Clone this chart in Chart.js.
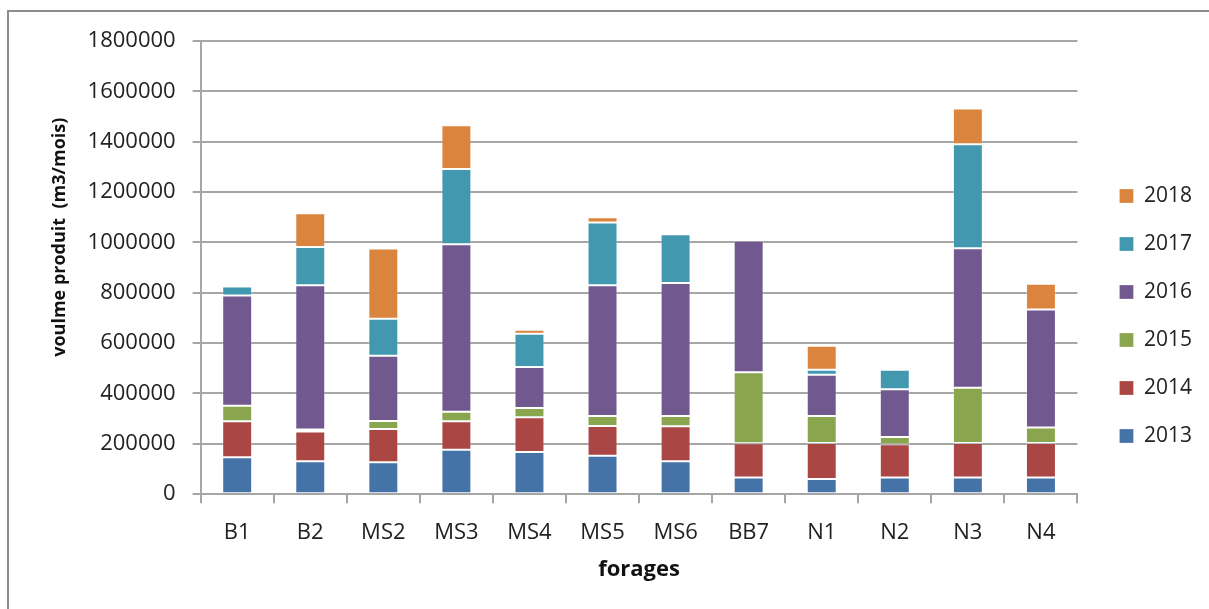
<!DOCTYPE html>
<html>
<head>
<meta charset="utf-8">
<script src="https://cdn.jsdelivr.net/npm/chart.js@4"></script>
<style>
    html, body { margin: 0; padding: 0; background: #fff; }
    #wrap { position: relative; width: 1209px; height: 609px; overflow: hidden; }
    #frame {
        position: absolute; left: 7px; top: 10px; width: 1300px; height: 700px;
        border-left: 2px solid #8c8c8c; border-top: 2px solid #8c8c8c;
    }
    canvas { position: absolute; left: 0; top: 0; }
</style>
</head>
<body>
<div id="wrap">
    <div id="frame"></div>
    <canvas id="volumeChart" width="1209" height="609"></canvas>
</div>
<script>
// ========================================
// Volume produit par forage (m3/mois)
// ========================================

const forages = ['B1', 'B2', 'MS2', 'MS3', 'MS4', 'MS5', 'MS6', 'BB7', 'N1', 'N2', 'N3', 'N4'];

const vol2013 = [147000, 131000, 127000, 177000, 168000, 153000, 131000, 66000, 60000, 66000, 66000, 66000];
const vol2014 = [143000, 118000, 132000, 113000, 138000, 118000, 139000, 136000, 143000, 132000, 137000, 137000];
const vol2015 = [61000, 8000, 32000, 37000, 36000, 40000, 41000, 282000, 108000, 29000, 220000, 62000];
const vol2016 = [438000, 573000, 259000, 666000, 163000, 519000, 528000, 523000, 163000, 190000, 554000, 469000];
const vol2017 = [36000, 152000, 147000, 299000, 132000, 249000, 193000, 0, 20000, 77000, 413000, 0];
const vol2018 = [0, 134000, 279000, 173000, 16000, 21000, 0, 0, 96000, 0, 142000, 102000];

const yTicks = [0, 200000, 400000, 600000, 800000, 1000000, 1200000, 1400000, 1600000, 1800000];

const FONT = "'Open Sans', 'DejaVu Sans', sans-serif";
const GRID = '#a6a6a6';

const series = [
    { label: '2013', data: vol2013, color: '#4572a7' },
    { label: '2014', data: vol2014, color: '#aa4643' },
    { label: '2015', data: vol2015, color: '#89a54e' },
    { label: '2016', data: vol2016, color: '#71588f' },
    { label: '2017', data: vol2017, color: '#4198af' },
    { label: '2018', data: vol2018, color: '#db843d' }
];

// leave some air between the plot and the legend
const legendGap = {
    id: 'legendGap',
    afterLayout(chart) {
        const legend = chart.legend;
        if (!legend) return;
        legend.left = chart.chartArea.right + 15;
        legend.right = legend.left + legend.width;
        legend.top += 4;
        legend.bottom += 4;
    }
};

// y title sits a bit above the middle of the axis
const yTitle = 'voulme produit  (m3/mois)'.padStart(38, ' ');

const ctx = document.getElementById('volumeChart');

try {
    new Chart(ctx.getContext('2d'), {
        type: 'bar',
        data: {
            labels: forages,
            datasets: series.map(s => ({
                label: s.label,
                data: s.data,
                backgroundColor: s.color,
                borderColor: 'rgba(255,255,255,0.25)',
                borderWidth: 1,
                borderSkipped: false,
                categoryPercentage: 1,
                barPercentage: 0.41
            }))
        },
        plugins: [legendGap],
        options: {
            responsive: false,
            animation: false,
            layout: { padding: { left: 49, top: 41, right: 22, bottom: 26 } },
            plugins: {
                tooltip: { enabled: false },
                legend: {
                    position: 'right',
                    reverse: true,
                    labels: {
                        boxWidth: 14,
                        boxHeight: 14,
                        padding: 27,
                        color: '#222',
                        font: { family: FONT, size: 21 }
                    }
                }
            },
            scales: {
                x: {
                    stacked: true,
                    grid: {
                        offset: true,
                        drawOnChartArea: false,
                        color: GRID,
                        tickLength: 9,
                        lineWidth: 2
                    },
                    border: { color: GRID, width: 2 },
                    ticks: { color: '#222', padding: 16, font: { family: FONT, size: 22 } },
                    title: {
                        display: true,
                        text: 'forages',
                        color: '#111',
                        padding: { top: -5, bottom: 0 },
                        font: { family: FONT, size: 22, weight: 'bold' }
                    }
                },
                y: {
                    stacked: true,
                    min: 0,
                    max: 1800000,
                    afterBuildTicks: axis => {
                        axis.ticks = yTicks.map(v => ({ value: v }));
                    },
                    grid: { color: GRID, lineWidth: 2, tickLength: 8 },
                    border: { color: GRID, width: 2 },
                    ticks: {
                        color: '#222',
                        padding: 17,
                        font: { family: FONT, size: 22 },
                        callback: v => String(v)
                    },
                    title: {
                        display: true,
                        text: yTitle,
                        color: '#111',
                        padding: { top: 0, bottom: 0 },
                        font: { family: FONT, size: 18, weight: 'bold' }
                    }
                }
            }
        }
    });
} catch (err) {
    console.error(err);
}
</script>
</body>
</html>
